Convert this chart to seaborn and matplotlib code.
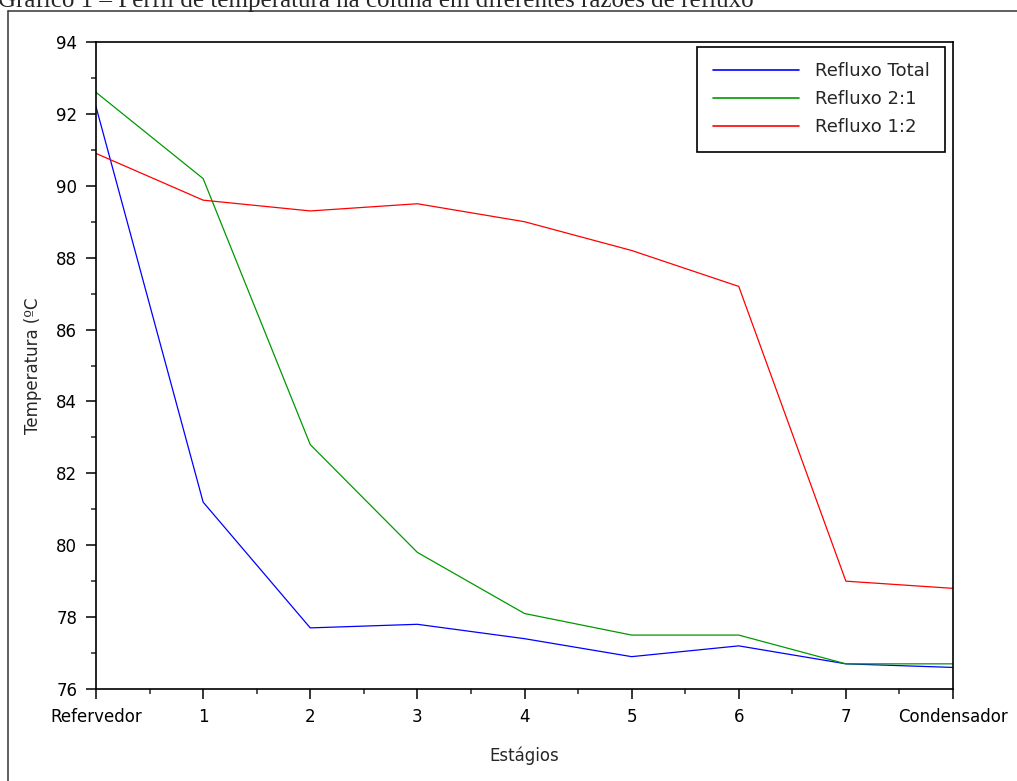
import seaborn as sns
import matplotlib.pyplot as plt
import pandas as pd
from matplotlib.lines import Line2D
from matplotlib.ticker import MultipleLocator

# dados
estagios = ["Refervedor", "1", "2", "3", "4", "5", "6", "7", "Condensador"]
refluxo_total = [92.2, 81.2, 77.7, 77.8, 77.4, 76.9, 77.2, 76.7, 76.6]
refluxo_2_1 = [92.6, 90.2, 82.8, 79.8, 78.1, 77.5, 77.5, 76.7, 76.7]
refluxo_1_2 = [90.9, 89.6, 89.3, 89.5, 89.0, 88.2, 87.2, 79.0, 78.8]
series = ["Refluxo Total", "Refluxo 2:1", "Refluxo 1:2"]
cores = ["#0000ff", "#009900", "#ff0000"]

rows = []
for nome, vals in zip(series, [refluxo_total, refluxo_2_1, refluxo_1_2]):
    for i, v in enumerate(vals):
        rows.append({"pos": i, "temp": v, "serie": nome})
df = pd.DataFrame(rows)

sns.set_style("ticks")
plt.rcParams["font.family"] = ["DejaVu Sans"]

fig = plt.figure(figsize=(10.17, 7.81), dpi=100)
ax = fig.add_axes([96 / 1017, 1 - 689 / 781, 857 / 1017, 647 / 781])

sns.lineplot(data=df, x="pos", y="temp", hue="serie", palette=cores,
             hue_order=series, linewidth=0.9, ax=ax, legend=False)

ax.set_xlim(0, len(estagios) - 1)
ax.set_ylim(76, 94)
ax.set_xticks(range(len(estagios)))
ax.set_xticklabels(estagios)
ax.xaxis.set_minor_locator(MultipleLocator(0.5))
ax.yaxis.set_major_locator(MultipleLocator(2))
ax.yaxis.set_minor_locator(MultipleLocator(1))
ax.tick_params(which="major", length=7.5, width=1.1, direction="out",
               labelsize=12, colors="black", pad=6)
ax.tick_params(which="minor", length=3.5, width=1.1, direction="out")
for s in ax.spines.values():
    s.set_visible(True)
    s.set_linewidth(1.2)
    s.set_color("black")

ax.set_xlabel("Estágios", fontsize=12, labelpad=15)
ax.set_ylabel("Temperatura (ºC", fontsize=12, labelpad=10)

handles = [Line2D([], [], color=c, lw=1.2) for c in cores]
leg = ax.legend(handles, series, loc="upper right",
                bbox_to_anchor=(0.9907, 0.9923), borderaxespad=0,
                fontsize=13, handlelength=4.8, handletextpad=0.85,
                labelspacing=0.55, borderpad=0.85, fancybox=False,
                framealpha=1, edgecolor="black")
leg.get_frame().set_linewidth(1.2)

# moldura externa e titulo cortado
fig.add_artist(Line2D([8 / 1017, 8 / 1017], [0, 1 - 11 / 781],
                      transform=fig.transFigure, color="#333333", lw=1.1))
fig.add_artist(Line2D([8 / 1017, 1], [1 - 11 / 781, 1 - 11 / 781],
                      transform=fig.transFigure, color="#333333", lw=1.1))
fig.text(-0.002, 1 - 7 / 781,
         "Gráfico 1 – Perfil de temperatura na coluna em diferentes razões de refluxo",
         fontsize=18, family="Liberation Serif", va="baseline", ha="left")

fig.savefig("out.png", dpi=100)
